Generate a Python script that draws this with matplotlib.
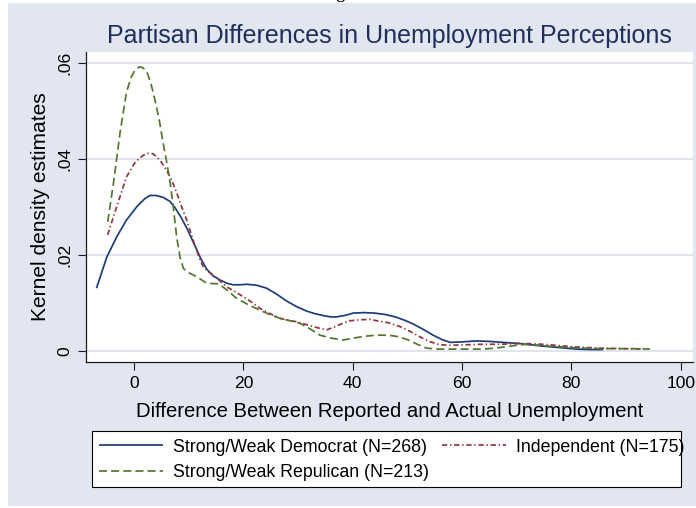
import matplotlib
matplotlib.use("Agg")
import matplotlib.pyplot as plt
from matplotlib.patches import Rectangle

# Kernel density estimates by party identification
dem_x = [-6.9, -5.0, -3.2, -1.4, 0.5, 2.0, 2.9, 4.0, 5.3, 6.5, 7.5, 8.6, 9.8, 11.0,
         12.2, 13.3, 14.5, 15.7, 17.0, 18.1, 19.4, 20.6, 22.4, 24.2, 26.0, 27.9, 29.8,
         31.6, 33.0, 34.5, 36.0, 37.0, 38.5, 40.1, 42.0, 44.0, 46.0, 47.8, 49.5, 51.1,
         52.9, 54.7, 56.3, 57.8, 60.0, 62.5, 65.0, 67.5, 70.0, 72.5, 75.0, 78.0, 81.0,
         83.5, 85.8]
dem_y = [0.0131, 0.0196, 0.0238, 0.0273, 0.0301, 0.0318, 0.0324, 0.0324, 0.0320,
         0.0312, 0.0298, 0.0278, 0.0252, 0.0222, 0.0192, 0.0170, 0.0156, 0.0148,
         0.0141, 0.0138, 0.0138, 0.0139, 0.0137, 0.0131, 0.0119, 0.0104, 0.0092,
         0.0083, 0.0078, 0.0074, 0.0071, 0.0071, 0.0074, 0.0079, 0.0080, 0.0079,
         0.0076, 0.0071, 0.0064, 0.0056, 0.0045, 0.0033, 0.0024, 0.0018, 0.0019,
         0.0021, 0.0020, 0.0018, 0.0016, 0.0013, 0.0010, 0.0007, 0.0004, 0.0003,
         0.0003]

ind_x = [-4.85, -3.2, -1.4, 0.0, 0.8, 1.7, 2.6, 3.4, 4.1, 5.0, 5.9, 6.9, 7.8, 8.7,
         9.6, 10.4, 11.1, 12.0, 12.6, 13.5, 14.5, 16.9, 19.4, 21.2, 23.0, 24.8, 26.7,
         28.2, 29.7, 31.2, 32.8, 34.0, 35.2, 36.6, 38.2, 39.5, 41.3, 43.1, 44.9, 46.5,
         48.6, 50.3, 52.2, 54.0, 55.9, 58.0, 60.8, 63.3, 66.9, 70.6, 73.5, 76.0, 78.0,
         81.5, 85.0, 89.0, 93.0]
ind_y = [0.0242, 0.0301, 0.0363, 0.0390, 0.0400, 0.0408, 0.0412, 0.0411, 0.0405,
         0.0393, 0.0377, 0.0355, 0.0329, 0.0300, 0.0273, 0.0245, 0.0220, 0.0192,
         0.0176, 0.0166, 0.0158, 0.0134, 0.0117, 0.0104, 0.0089, 0.0078, 0.0068,
         0.0064, 0.0061, 0.0056, 0.0051, 0.0047, 0.0044, 0.0050, 0.0058, 0.0063,
         0.0065, 0.0066, 0.0062, 0.0059, 0.0051, 0.0042, 0.0030, 0.0020, 0.0013,
         0.0012, 0.0013, 0.0014, 0.0014, 0.0016, 0.0015, 0.0013, 0.0011, 0.0008,
         0.0006, 0.0005, 0.0004]

rep_x = [-4.85, -3.8, -2.6, -1.4, -0.5, 0.2, 1.0, 1.6, 2.3, 3.0, 3.8, 4.6, 5.3, 6.0,
         6.6, 7.2, 7.8, 8.4, 9.0, 10.0, 11.4, 13.3, 15.4, 17.0, 18.7, 20.8, 23.0, 24.8,
         26.7, 28.5, 30.3, 32.2, 34.0, 36.0, 38.2, 40.2, 42.3, 44.5, 46.5, 48.3, 50.2,
         51.8, 53.5, 55.5, 57.8, 60.5, 63.9, 66.0, 68.1, 70.0, 71.8, 74.0, 76.0, 79.0,
         82.0, 85.0, 88.0, 91.0, 94.4]
rep_y = [0.0269, 0.0349, 0.0454, 0.0540, 0.0572, 0.0586, 0.0592, 0.0590, 0.0582,
         0.0560, 0.0523, 0.0480, 0.0433, 0.0390, 0.0349, 0.0295, 0.0235, 0.0195,
         0.0172, 0.0163, 0.0155, 0.0141, 0.0140, 0.0127, 0.0110, 0.0097, 0.0085,
         0.0076, 0.0068, 0.0063, 0.0058, 0.0046, 0.0033, 0.0027, 0.0023, 0.0027,
         0.0031, 0.0033, 0.0033, 0.0030, 0.0023, 0.0014, 0.0006, 0.0004, 0.0004,
         0.0004, 0.0004, 0.0006, 0.0009, 0.0012, 0.0014, 0.0012, 0.0010, 0.0008,
         0.0006, 0.0005, 0.0005, 0.0005, 0.0004]

labels = ["Strong/Weak Democrat (N=268)", "Independent (N=175)",
          "Strong/Weak Repulican (N=213)"]
colors = ["#1C3D7A", "#90353B", "#55752F"]

x_ticks = [0, 20, 40, 60, 80, 100]
y_ticks = [0, 0.02, 0.04, 0.06]
y_ticklabels = ["0", ".02", ".04", ".06"]

title = "Partisan Differences in Unemployment Perceptions"
x_title = "Difference Between Reported and Actual Unemployment"
y_title = "Kernel density estimates"

W, H = 696, 508
plt.rcParams["font.family"] = ["Liberation Sans", "DejaVu Sans"]

fig = plt.figure(figsize=(W / 100, H / 100), dpi=100, facecolor="white")


def fx(px):
    return px / W


def fy(py):
    return 1 - py / H


# graph region background
fig.patches.append(Rectangle((fx(8), fy(506)), fx(696) - fx(8), fy(3) - fy(506),
                             transform=fig.transFigure, facecolor="#E1E6F0",
                             edgecolor="none", zorder=-10))
fig.text(fx(352), fy(-1.5), "Figure 1", ha="center", va="baseline",
         fontsize=12, fontweight="bold", family="Liberation Serif", color="black")

ax = fig.add_axes([fx(86), fy(362.3), fx(692.5) - fx(86), fy(51.7) - fy(362.3)])
ax.set_zorder(1)
ax.set_facecolor("white")
ax.set_xlim(-8.82, 102.16)
ax.set_ylim(-0.00235, 0.06235)

for s in ("top", "right"):
    ax.spines[s].set_visible(False)
for s in ("left", "bottom"):
    ax.spines[s].set_color("#1a1a1a")
    ax.spines[s].set_linewidth(0.9)

ax.set_yticks(y_ticks)
ax.set_yticklabels(y_ticklabels, rotation=90, va="center")
ax.set_xticks(x_ticks)
ax.tick_params(axis="both", length=5.8, width=0.8, color="#1a1a1a",
               labelsize=12.6, labelcolor="black")
ax.tick_params(axis="y", pad=4)
ax.tick_params(axis="x", pad=4)
ax.grid(axis="y", color="#D9DFEA", linewidth=1.2)
ax.set_axisbelow(True)

lw = 1.25
l_dem, = ax.plot(dem_x, dem_y, color=colors[0], lw=lw, solid_capstyle="butt")
l_ind, = ax.plot(ind_x, ind_y, color=colors[1], lw=lw, dashes=(3.0, 1.6, 0.8, 1.6))
l_rep, = ax.plot(rep_x, rep_y, color=colors[2], lw=lw, dashes=(4.6, 2.4))

ax.set_title(title, fontsize=18, color="#1E2F5C", pad=6)
ax.set_xlabel(x_title, fontsize=14.6, color="black", labelpad=8)
ax.set_ylabel(y_title, fontsize=15.1, color="black", labelpad=5)

# legend box
fig.patches.append(Rectangle((fx(91.7), fy(486.7)), fx(681) - fx(91.7),
                             fy(430.7) - fy(486.7), transform=fig.transFigure,
                             facecolor="white", edgecolor="black", linewidth=0.8,
                             zorder=1))
leg = fig.legend([l_dem, l_rep, l_ind], [labels[0], labels[2], labels[1]],
                 ncol=2, loc="upper left", bbox_to_anchor=(fx(99.3), fy(438.5)),
                 frameon=False, fontsize=12.8, handlelength=3.57,
                 handletextpad=0.6, columnspacing=0.72, labelspacing=0.48,
                 borderpad=0, borderaxespad=0)
leg.set_zorder(2)

fig.savefig("out.png", dpi=100, facecolor="white")
